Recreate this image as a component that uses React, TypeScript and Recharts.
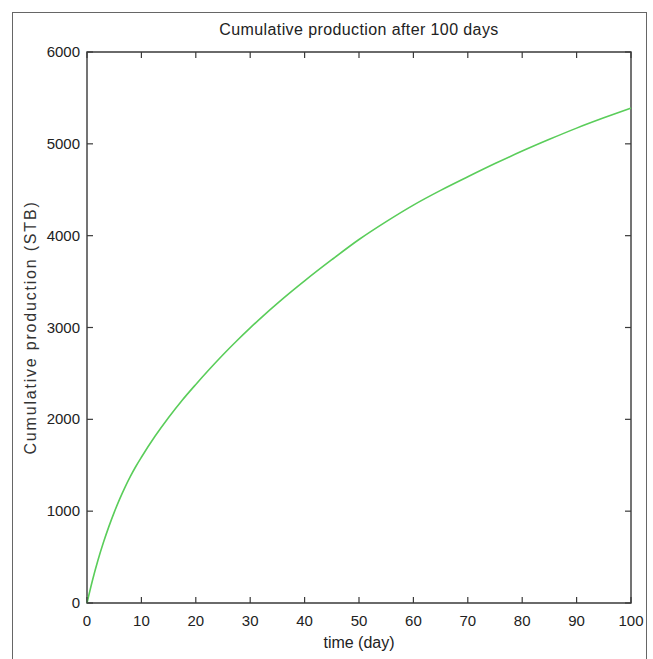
import { LineChart, Line, XAxis, YAxis, Label, ReferenceArea } from 'recharts';

// time (day)
const days = [0, 1, 2, 3, 4, 5, 6, 7, 8, 9, 10, 12.5, 15, 17.5, 20, 22.5, 25, 27.5, 30, 32.5, 35, 37.5, 40, 45, 50, 55, 60, 65, 70, 75, 80, 85, 90, 95, 100];
// cumulative production (STB)
const production = [0, 245, 462, 655, 829, 987, 1131, 1262, 1381, 1489, 1587, 1815, 2020, 2208, 2380, 2545, 2703, 2853, 2996, 3133, 3263, 3388, 3508, 3738, 3958, 4153, 4333, 4493, 4641, 4785, 4921, 5049, 5171, 5283, 5390];

const xTicks = [0, 10, 20, 30, 40, 50, 60, 70, 80, 90, 100];
const yTicks = [0, 1000, 2000, 3000, 4000, 5000, 6000];

const data = days.map((d, i) => ({ day: d, stb: production[i] }));

const FONT = '"Liberation Sans", Arial, sans-serif';
const AXIS = '#3a3a3a';
const W = 653;
const H = 659;
const M = { top: 52, right: 22, bottom: 16, left: 27 };
const Y_AXIS_W = 60;
const X_AXIS_H = 40;
// plot box edges
const TOP = M.top;
const BOTTOM = H - M.bottom - X_AXIS_H;
const LEFT = M.left + Y_AXIS_W;
const RIGHT = W - M.right;
const TICK = 6;

// MATLAB style: ticks point inward on both opposite sides
const XTick = (props: any) => {
  const { x, payload } = props;
  return (
    <g>
      <line x1={x} x2={x} y1={BOTTOM} y2={BOTTOM - TICK} stroke={AXIS} strokeWidth={1.2} />
      <line x1={x} x2={x} y1={TOP} y2={TOP + TICK} stroke={AXIS} strokeWidth={1.2} />
      <text x={x} y={BOTTOM + 23} textAnchor="middle" fill="#222" fontSize={15} fontFamily={FONT}>
        {payload.value}
      </text>
    </g>
  );
};

const YTick = (props: any) => {
  const { y, payload } = props;
  return (
    <g>
      <line x1={LEFT} x2={LEFT + TICK} y1={y} y2={y} stroke={AXIS} strokeWidth={1.2} />
      <line x1={RIGHT} x2={RIGHT - TICK} y1={y} y2={y} stroke={AXIS} strokeWidth={1.2} />
      <text x={LEFT - 7} y={y + 5} textAnchor="end" fill="#222" fontSize={15} fontFamily={FONT}>
        {payload.value}
      </text>
    </g>
  );
};

export default function App() {
  return (
    <div style={{ position: 'absolute', left: 0, top: 0, width: W, height: H, background: '#fff', overflow: 'hidden' }}>
      {/* outer figure frame */}
      <div style={{ position: 'absolute', left: 12, top: 12, width: 633, height: 660, border: '1px solid #666', borderBottom: 'none' }} />
      <div
        style={{
          position: 'absolute',
          left: LEFT,
          width: RIGHT - LEFT,
          top: 20,
          textAlign: 'center',
          fontFamily: FONT,
          fontSize: 16,
          letterSpacing: 0.4,
          color: '#222',
          lineHeight: '20px',
        }}
      >
        Cumulative production after 100 days
      </div>
      <LineChart width={W} height={H} data={data} margin={M}>
        <XAxis
          xAxisId="bottom"
          dataKey="day"
          type="number"
          domain={[0, 100]}
          ticks={xTicks}
          interval={0}
          height={X_AXIS_H}
          tickLine={false}
          axisLine={false}
          tick={<XTick />}
        >
          <Label value="time (day)" position="bottom" offset={-6} style={{ fill: '#222', fontSize: 16, fontFamily: FONT }} />
        </XAxis>
        <YAxis
          yAxisId="left"
          type="number"
          domain={[0, 6000]}
          ticks={yTicks}
          interval={0}
          width={Y_AXIS_W}
          tickLine={false}
          axisLine={false}
          tick={<YTick />}
        >
          <Label
            value="Cumulative production (STB)"
            angle={-90}
            position="insideLeft"
            offset={3}
            style={{ textAnchor: 'middle', fill: '#333', fontSize: 16, fontFamily: FONT, letterSpacing: 1.8 }}
          />
        </YAxis>
        <ReferenceArea
          xAxisId="bottom"
          yAxisId="left"
          x1={0}
          x2={100}
          y1={0}
          y2={6000}
          fill="none"
          fillOpacity={0}
          stroke={AXIS}
          strokeWidth={1.4}
          strokeOpacity={1}
        />
        <Line
          xAxisId="bottom"
          yAxisId="left"
          type="monotone"
          dataKey="stb"
          stroke="#5acd5a"
          strokeWidth={1.6}
          dot={false}
          isAnimationActive={false}
        />
      </LineChart>
    </div>
  );
}
